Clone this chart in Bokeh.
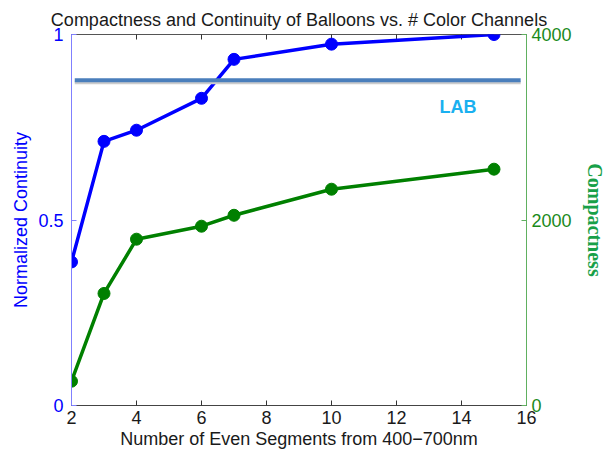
from math import pi
from bokeh.plotting import figure
from bokeh.models import Range1d, LinearAxis, FixedTicker, Label
from bokeh.embed import file_html
from bokeh.resources import INLINE

segments = [2, 3, 4, 6, 7, 10, 15]
continuity = [0.387, 0.712, 0.742, 0.828, 0.933, 0.974, 1.0]
compactness = [262, 1208, 1793, 1933, 2051, 2332, 2548]
lab_level = 0.877
lab_span = [2.1, 15.82]
x_ticks = [2, 4, 6, 8, 10, 12, 14, 16]
left_ticks = [0, 0.5, 1]
right_ticks = [0, 2000, 4000]

BLUE = "#0000ff"
GREEN = "#008000"
FONT = "Liberation Sans"
FS = "18px"

p = figure(width=608, height=454, output_backend="svg", toolbar_location=None,
           x_range=Range1d(2, 16), y_range=Range1d(0, 1),
           min_border_left=71, min_border_right=81, min_border_top=34, min_border_bottom=49)
p.extra_y_ranges = {"comp": Range1d(0, 4000)}
p.grid.visible = False
p.outline_line_color = "#555555"
p.outline_line_width = 1
p.background_fill_color = "white"
p.border_fill_color = "white"

p.title.text = "Compactness and Continuity of Balloons vs. # Color Channels"
p.title.align = "center"
p.title.text_font = FONT
p.title.text_font_style = "normal"
p.title.text_font_size = FS
p.title.text_color = "#1a1a1a"
p.title.offset = 0
p.title.standoff = 9

# bottom axis
xa = p.xaxis[0]
xa.ticker = FixedTicker(ticks=x_ticks)
xa.axis_label = "Number of Even Segments from 400\u2212700nm"
xa.axis_label_text_font = FONT
xa.axis_label_text_font_style = "normal"
xa.axis_label_text_font_size = FS
xa.axis_label_text_color = "#1a1a1a"
xa.axis_label_standoff = 2
xa.major_label_text_font = FONT
xa.major_label_text_font_size = FS
xa.major_label_text_color = "#1a1a1a"
xa.major_label_standoff = 5
xa.major_tick_in = 5
xa.major_tick_out = 0
xa.minor_tick_line_color = None
xa.axis_line_color = "#444444"
xa.major_tick_line_color = "#333333"

# left axis
ya = p.yaxis[0]
ya.ticker = FixedTicker(ticks=left_ticks)
ya.axis_label = "Normalized Continuity"
ya.axis_label_text_font = FONT
ya.axis_label_text_font_style = "normal"
ya.axis_label_text_font_size = FS
ya.axis_label_text_color = BLUE
ya.axis_label_standoff = 4
ya.major_label_text_font = FONT
ya.major_label_text_font_size = FS
ya.major_label_text_color = BLUE
ya.major_label_standoff = 8
ya.major_tick_in = 5
ya.major_tick_out = 0
ya.minor_tick_line_color = None
ya.axis_line_color = "#8080ff"
ya.major_tick_line_color = "#8080ff"

# right axis
ra = LinearAxis(y_range_name="comp", ticker=FixedTicker(ticks=right_ticks),
                axis_label="Compactness", axis_label_text_font="Liberation Serif",
                axis_label_text_font_style="bold", axis_label_text_font_size="20px",
                axis_label_text_color="#18a048", axis_label_standoff=9,
                major_label_text_font=FONT, major_label_text_font_size=FS,
                major_label_text_color="#1a8a1a", major_label_standoff=5,
                major_tick_in=5, major_tick_out=0, minor_tick_line_color=None,
                axis_line_color="#60b060", major_tick_line_color="#60b060")
p.add_layout(ra, "right")

# top ticks (MATLAB box)
p.scatter(x_ticks, [1] * len(x_ticks), marker="dash", angle=pi / 2, size=10,
          line_color="#333333", line_width=1)

# data
p.line(segments, continuity, line_color=BLUE, line_width=3.5)
p.scatter(segments, continuity, size=12, fill_color=BLUE, line_color=BLUE)
p.line(segments, compactness, y_range_name="comp", line_color=GREEN, line_width=3.5)
p.scatter(segments, compactness, y_range_name="comp", size=12, fill_color=GREEN, line_color=GREEN)

# LAB reference line with shadow
p.line(lab_span, [lab_level - 0.007, lab_level - 0.007], line_color="#cccccc", line_width=3)
p.line(lab_span, [lab_level, lab_level], line_color="#4a7ebb", line_width=4)
p.add_layout(Label(x=13.89, y=0.804, text="LAB", text_font=FONT,
                   text_font_style="bold", text_font_size="18px", text_color="#1ab0f0",
                   text_align="center", text_baseline="middle"))

open("out.html", "w").write(file_html(p, INLINE))
